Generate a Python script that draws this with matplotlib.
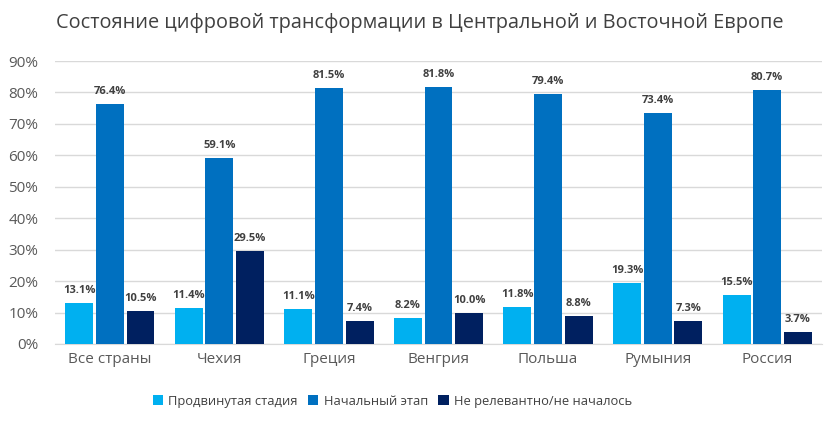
import matplotlib
matplotlib.use('agg')
import matplotlib.pyplot as plt
import numpy as np

plt.rcParams['font.family'] = ['Open Sans', 'DejaVu Sans']

countries = ["Все страны", "Чехия", "Греция", "Венгрия", "Польша", "Румыния", "Россия"]
series_names = ["Продвинутая стадия", "Начальный этап", "Не релевантно/не началось"]
advanced = [13.1, 11.4, 11.1, 8.2, 11.8, 19.3, 15.5]
initial = [76.4, 59.1, 81.5, 81.8, 79.4, 73.4, 80.7]
not_started = [10.5, 29.5, 7.4, 10.0, 8.8, 7.3, 3.7]
colors = ["#00B0F0", "#0070C0", "#002060"]

fig = plt.figure(figsize=(8.4, 4.24), dpi=100)
ax = fig.add_axes([0.0655, 0.1887, 0.9131, 0.6673])

x = np.arange(len(countries))
width = 0.255
step = 0.28
for i, (vals, name, col) in enumerate(zip([advanced, initial, not_started], series_names, colors)):
    pos = x + (i - 1) * step
    ax.bar(pos, vals, width=width, color=col, label=name, zorder=3)
    for p, v in zip(pos, vals):
        ax.annotate(f"{v:.1f}%", (p, v), xytext=(0, 5), textcoords='offset points',
                    ha='center', va='bottom', fontsize=8, fontweight='bold', color='#404040')

ax.set_xlim(-0.5, len(countries) - 0.5)
ax.set_ylim(0, 90)
ax.set_yticks(np.arange(0, 91, 10))
ax.set_yticklabels([f"{t}%" for t in range(0, 91, 10)])
ax.set_xticks(x)
ax.set_xticklabels(countries)
ax.tick_params(axis='both', length=0, colors='#595959', labelsize=11)
ax.tick_params(axis='x', pad=6)
ax.tick_params(axis='y', pad=12)
ax.grid(axis='y', color='#D9D9D9', linewidth=1, zorder=0)
for s in ['top', 'right', 'left']:
    ax.spines[s].set_visible(False)
ax.spines['bottom'].set_color('#D9D9D9')

fig.text(0.5, 0.945, "Состояние цифровой трансформации в Центральной и Восточной Европе",
         ha='center', va='center', fontsize=14.3, color='#404040')

fig.legend(loc='center', bbox_to_anchor=(0.467, 0.054), ncol=3, frameon=False,
           fontsize=9.3, handlelength=0.8, handleheight=0.8, handletextpad=0.4,
           columnspacing=0.8, labelcolor='#404040')

fig.savefig('out.png', dpi=100)
